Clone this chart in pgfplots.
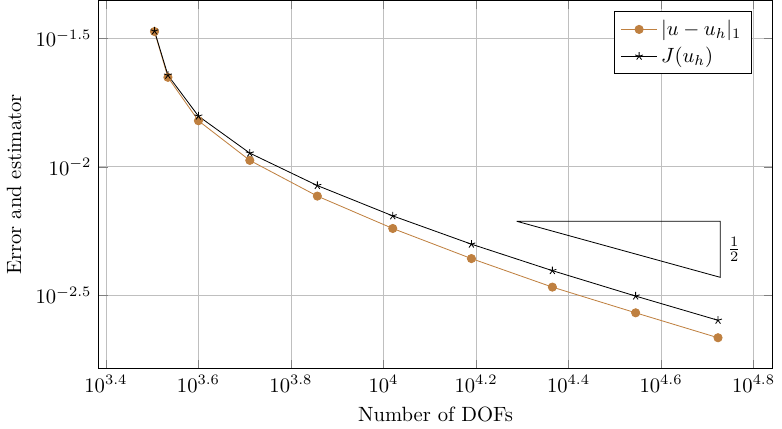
\documentclass[border=0pt]{standalone}
\usepackage{pgfplots}
\pgfplotsset{compat=1.18}
\begin{document}
\begin{tikzpicture}
\begin{loglogaxis}[
  scale only axis,
  width=326.6pt, height=178.4pt,
  xmin=2424, xmax=69270,
  ymin=0.001644, ymax=0.04436,
  xtick={2511.886,3981.072,6309.573,10000,15848.93,25118.86,39810.72,63095.73},
  ytick={0.0316228,0.01,0.00316228},
  grid=major,
  xlabel={Number of DOFs},
  ylabel={Error and estimator},
  legend style={at={(0.97,0.97)}, anchor=north east, cells={anchor=west}},
]
\addplot[brown, mark=*] coordinates {
  (3199,0.03357) (3420,0.02228) (3981,0.01510) (5140,0.01059) (7194,0.007691)
  (10471,0.005754) (15488,0.004395) (23174,0.003404) (35075,0.002704) (52845,0.002163)
};
\addlegendentry{$|u-u_h|_1$}
\addplot[black, mark=star] coordinates {
  (3199,0.03373) (3420,0.02270) (3981,0.01574) (5140,0.01130) (7194,0.008453)
  (10471,0.006442) (15488,0.005000) (23174,0.003945) (35075,0.003141) (52845,0.002529)
};
\addlegendentry{$J(u_h)$}
\addplot[black, no marks, forget plot] coordinates {
  (19409,0.006138) (53456,0.006138) (53456,0.003715) (19409,0.006138)
} node[pos=0.5, right=2pt, anchor=west] {};
\node[anchor=west] at (axis cs:53456,0.004776) {$\frac{1}{2}$};
\end{loglogaxis}
\end{tikzpicture}
\end{document}
